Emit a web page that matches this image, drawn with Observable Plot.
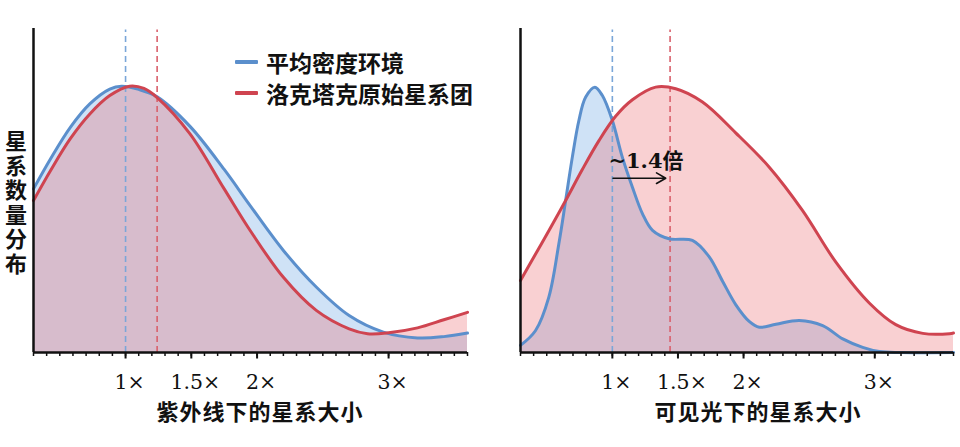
<!DOCTYPE html>
<html><head><meta charset="utf-8">
<script src="https://cdn.jsdelivr.net/npm/d3@7"></script>
<script src="https://cdn.jsdelivr.net/npm/@observablehq/plot@0.6"></script>
<style>
body{margin:0;background:#fff;}
#wrap{position:relative;width:960px;height:447px;overflow:hidden;font-family:"Noto Sans CJK SC","Noto Sans",sans-serif;color:#111;}
.panel{position:absolute;top:0;}
.ylab{position:absolute;left:0px;top:130px;width:32px;font-size:22px;font-weight:700;line-height:32px;writing-mode:vertical-rl;text-orientation:upright;letter-spacing:2.5px;}
.title{position:absolute;top:398px;font-size:22px;font-weight:700;line-height:24px;transform:translateX(-50%);white-space:nowrap;letter-spacing:1px;}
.legend{position:absolute;left:235px;top:46px;font-size:23px;font-weight:700;}
.legend .row{display:flex;align-items:center;height:31px;white-space:nowrap;}
.legend .sw{display:inline-block;width:23px;height:4px;margin-right:8px;border-radius:1px;}
</style></head>
<body>
<div id="wrap"></div>
<script>
// ---- data ----
const seriesNames = ["平均密度环境", "洛克塔克原始星系团"];
const yLabel = "星系数量分布";
const xTitles = ["紫外线下的星系大小", "可见光下的星系大小"];
const majorTicks = [1, 1.5, 2, 3];
const majorLabels = ["1×", "1.5×", "2×", "3×"];
const xDomain = [0.3, 3.6];

// UV panel
const uvBlueX = [0.3, 0.43, 0.58, 0.73, 0.88, 0.97, 1.1, 1.24, 1.49, 1.75, 1.95, 2.2, 2.45, 2.7, 2.96, 3.22, 3.42, 3.6];
const uvBlueY = [50.5, 59.8, 69.5, 76.8, 81.3, 82.2, 81.2, 78.9, 69.8, 56.5, 45.2, 31.5, 20.2, 11.4, 6.3, 4.5, 4.9, 6.0];
const uvRedX  = [0.3, 0.43, 0.58, 0.73, 0.88, 1.03, 1.14, 1.24, 1.49, 1.75, 1.95, 2.2, 2.45, 2.7, 2.84, 3.0, 3.22, 3.42, 3.6];
const uvRedY  = [46.9, 56.2, 66.0, 73.7, 79.3, 82.2, 81.5, 78.7, 67.5, 50.5, 37.5, 23.2, 13.0, 7.3, 5.8, 6.1, 7.6, 10.1, 12.4];
const uvMeans = [1.0, 1.24];

// Optical panel
const opBlueX = [0.3, 0.415, 0.516, 0.592, 0.644, 0.695, 0.745, 0.796, 0.867, 0.924, 1.0, 1.076, 1.153, 1.23, 1.306, 1.432, 1.61, 1.737, 1.84, 1.94, 2.043, 2.12, 2.247, 2.425, 2.603, 2.756, 2.908, 3.035, 3.2, 3.6];
const opBlueY = [2.2, 6.8, 17.1, 33.5, 46.9, 60.3, 71.6, 78.8, 81.9, 79.3, 71.6, 60.3, 51.0, 42.8, 37.7, 35.1, 34.6, 29.6, 22.0, 14.8, 9.6, 7.8, 8.7, 9.9, 8.3, 4.2, 1.6, 0.3, 0, 0];
const opRedX  = [0.3, 0.415, 0.516, 0.644, 0.77, 0.898, 1.025, 1.153, 1.33, 1.483, 1.687, 1.94, 2.196, 2.45, 2.705, 2.96, 3.16, 3.366, 3.57, 3.6];
const opRedY  = [22.2, 30.4, 37.6, 46.9, 56.4, 65.4, 72.9, 78.0, 81.9, 81.4, 77.3, 67.8, 57.2, 43.8, 27.8, 15.2, 8.6, 5.9, 5.8, 6.0];
const opMeans = [1.0, 1.44];

const annotationText = ["~1.4倍"];

// ---- styles ----
const BLUE = "#5b8fcc", RED = "#cf4450";
const BLUE_FILL = "#cfe2f6", RED_FILL = "#eb6269";
const BLUE_DASH = "#7aa6d8", RED_DASH = "#d9606b";
const SERIF = "'DejaVu Serif', 'Liberation Serif', serif";

const toRows = (xs, ys) => xs.map((x, i) => ({x, y: ys[i]}));
const minorTicks = d3.range(3, 37).map(d => d / 10);

function panel({blue, red, means, marginLeft, marginRight, extra = []}) {
  return Plot.plot({
    width: 480, height: 447,
    marginLeft, marginRight, marginTop: 28, marginBottom: 95,
    x: {domain: xDomain, label: null},
    y: {domain: [0, 100], axis: null},
    style: {background: "transparent", overflow: "visible", color: "#111"},
    marks: [
      Plot.areaY(blue, {x: "x", y: "y", fill: BLUE_FILL, curve: "catmull-rom"}),
      Plot.areaY(red, {x: "x", y: "y", fill: RED_FILL, fillOpacity: 0.3, curve: "catmull-rom"}),
      Plot.ruleX([means[0]], {y1: 0, y2: 99.5, stroke: BLUE_DASH, strokeWidth: 1.6, strokeDasharray: "6,4"}),
      Plot.ruleX([means[1]], {y1: 0, y2: 99.5, stroke: RED_DASH, strokeWidth: 1.6, strokeDasharray: "6,4"}),
      Plot.lineY(blue, {x: "x", y: "y", stroke: BLUE, strokeWidth: 3, curve: "catmull-rom"}),
      Plot.lineY(red, {x: "x", y: "y", stroke: RED, strokeWidth: 3, curve: "catmull-rom"}),
      ...extra,
      Plot.axisX({ticks: minorTicks, tickSize: 4, strokeWidth: 1.5, tickFormat: () => "", label: null}),
      Plot.axisX({ticks: majorTicks, tickSize: 6.5, strokeWidth: 2, tickFormat: () => "", label: null}),
      Plot.text(majorTicks, {x: d => d, text: (d, i) => majorLabels[i], frameAnchor: "bottom",
        lineAnchor: "middle", dy: 30, dx: 4, fontSize: 20.5, fontFamily: SERIF, fill: "#111"}),
      Plot.ruleY([0], {stroke: "#111", strokeWidth: 2.5}),
      Plot.ruleX([xDomain[0]], {stroke: "#111", strokeWidth: 2.5})
    ]
  });
}

const wrap = document.getElementById("wrap");

const left = panel({
  blue: toRows(uvBlueX, uvBlueY), red: toRows(uvRedX, uvRedY), means: uvMeans,
  marginLeft: 33, marginRight: 13
});
const right = panel({
  blue: toRows(opBlueX, opBlueY), red: toRows(opRedX, opRedY), means: opMeans,
  marginLeft: 40, marginRight: 7,
  extra: [
    Plot.text(annotationText, {x: () => 0.97, y: () => 59, text: d => d, textAnchor: "start", lineAnchor: "middle",
      fontSize: 21, fontWeight: "bold", fontFamily: "'DejaVu Serif', 'Noto Sans CJK SC', serif", fill: "#111"}),
    Plot.arrow([{x1: 1.005, x2: 1.407, y: 53.8}], {x1: "x1", x2: "x2", y1: "y", y2: "y",
      stroke: "#111", strokeWidth: 1.6, headLength: 10, bend: 0})
  ]
});

const p1 = document.createElement("div"); p1.className = "panel"; p1.style.left = "0px"; p1.append(left);
const p2 = document.createElement("div"); p2.className = "panel"; p2.style.left = "480px"; p2.append(right);
wrap.append(p1, p2);

// y label (vertical, upright characters)
const yl = document.createElement("div"); yl.className = "ylab"; yl.textContent = yLabel;
wrap.append(yl);

// x titles
[[260, xTitles[0]], [758, xTitles[1]]].forEach(([cx, t]) => {
  const d = document.createElement("div"); d.className = "title"; d.style.left = cx + "px"; d.textContent = t;
  wrap.append(d);
});

// legend
const lg = document.createElement("div"); lg.className = "legend";
[[BLUE, seriesNames[0]], [RED, seriesNames[1]]].forEach(([c, n]) => {
  const r = document.createElement("div"); r.className = "row";
  r.innerHTML = `<span class="sw" style="background:${c}"></span><span>${n}</span>`;
  lg.append(r);
});
wrap.append(lg);
</script>
</body></html>
